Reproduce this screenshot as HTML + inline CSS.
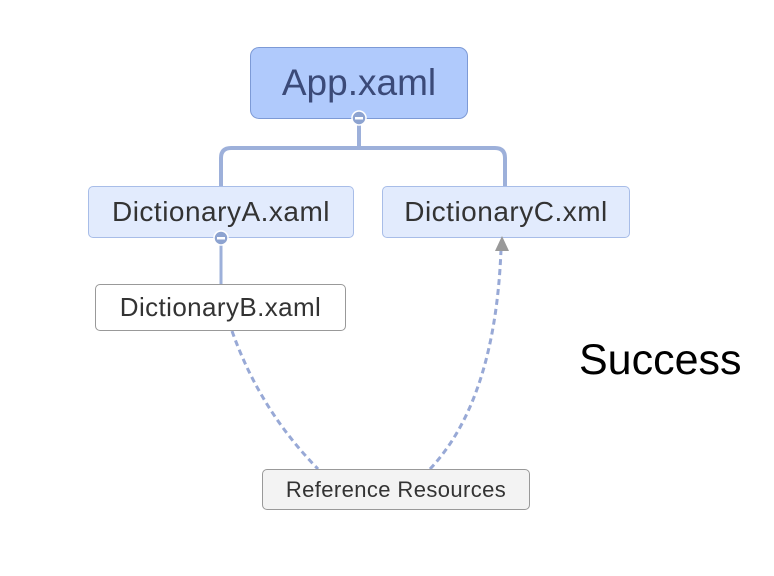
<!DOCTYPE html>
<html><head><style>
body{margin:0;width:774px;height:576px;background:#fff;position:relative;overflow:hidden;font-family:"Liberation Sans","DejaVu Sans",sans-serif}
.n{position:absolute;box-sizing:border-box;display:flex;align-items:center;justify-content:center;color:#333;border-radius:5px}
</style></head><body>
<svg width="774" height="576" style="position:absolute;left:0;top:0">
<path d="M359 118 V148 M221 186 V158 Q221 148 231 148 H495 Q505 148 505 158 V186" stroke="#9db0da" stroke-width="4" fill="none"/>
<path d="M221 238 V284" stroke="#9db0da" stroke-width="3" fill="none"/>
<path d="M232 331 Q260 410 318 469" stroke="#98a9d6" stroke-width="3" stroke-dasharray="6,4" fill="none"/>
<path d="M430 469 Q495 400 501 250" stroke="#98a9d6" stroke-width="3" stroke-dasharray="6,4" fill="none"/>
</svg>
<div class="n" style="left:250px;top:47px;width:218px;height:72px;background:#b0cafc;border:1px solid #7d9ad6;border-radius:9px;font-size:37px;color:#3b4a78">App.xaml</div>
<div class="n" style="left:88px;top:186px;width:266px;height:52px;background:#e2ebfd;border:1px solid #a8bde8;font-size:28px;letter-spacing:0.5px">DictionaryA.xaml</div>
<div class="n" style="left:382px;top:186px;width:248px;height:52px;background:#e2ebfd;border:1px solid #a8bde8;font-size:28px;letter-spacing:0.5px">DictionaryC.xml</div>
<div class="n" style="left:95px;top:284px;width:251px;height:47px;background:#fff;border:1px solid #999;font-size:26px;letter-spacing:0.4px">DictionaryB.xaml</div>
<div class="n" style="left:262px;top:469px;width:268px;height:41px;background:#f3f3f3;border:1px solid #999;font-size:22px;letter-spacing:0.4px">Reference Resources</div>
<div style="position:absolute;left:579px;top:336px;font-size:43px;color:#000">Success</div>
<svg width="774" height="576" style="position:absolute;left:0;top:0">
<circle cx="359" cy="118" r="7" fill="#8da3d0" stroke="#fff" stroke-width="1.5"/><rect x="355" y="117" width="8" height="2.5" fill="#fff"/>
<circle cx="221" cy="238" r="7" fill="#8da3d0" stroke="#fff" stroke-width="1.5"/><rect x="217" y="237" width="8" height="2.5" fill="#fff"/>
<polygon points="502,236 495,251 509,251" fill="#999"/>
</svg>
</body></html>
